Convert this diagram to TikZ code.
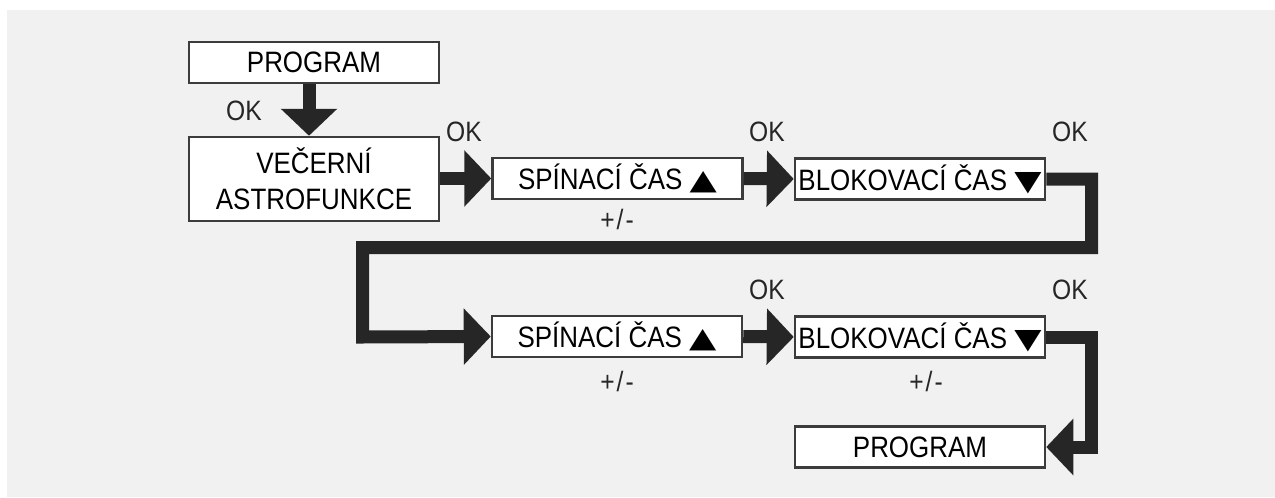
\documentclass[tikz,border=0pt]{standalone}
\usepackage{graphicx}
\usepackage{fontspec}
\setmainfont{Liberation Sans}[FakeStretch=0.88]
\newfontfamily\symfont{DejaVu Sans}
\usetikzlibrary{arrows.meta}
\definecolor{panel}{HTML}{F1F1F1}
\definecolor{ink}{HTML}{262626}
\newcommand{\upmark}{{\symfont\scalebox{1.2}[0.95]{▲}}}
\newcommand{\downmark}{{\symfont\scalebox{1.2}[0.95]{▼}}}
\tikzset{
  box/.style={draw=ink!90,line width=2.5pt,fill=white,minimum width=250pt,
    minimum height=41pt,inner sep=0pt,font=\fontsize{29.5}{36}\selectfont},
  flow/.style={-{Triangle[length=27pt,width=55pt]},line width=13pt,ink},
  okmark/.style={font=\fontsize{28}{30}\selectfont,text=ink}
}

\begin{document}
\begin{tikzpicture}[x=1pt,y=-1pt]
    \useasboundingbox (0,0) rectangle (1275,498);
    \fill[white] (0,0) rectangle (1275,498);
    \fill[panel] (7,10) rectangle (1275,497);

    % first row
    \node[box] (prog1) at (314,62.5) {PROGRAM};
    \node[box,minimum height=84pt,align=center] (astro) at (314,179) {VEČERNÍ\\ASTROFUNKCE};
    \node[box] (spin1) at (617.5,178.5) {SPÍNACÍ ČAS \upmark\hspace{8pt}};
    \node[box] (blok1) at (920,179) {BLOKOVACÍ ČAS \downmark};

    % second row
    \node[box] (spin2) at (617,336.5) {SPÍNACÍ ČAS \upmark\hspace{8pt}};
    \node[box] (blok2) at (920,337) {BLOKOVACÍ ČAS \downmark};
    \node[box] (prog2) at (920,447) {PROGRAM};

    \coordinate (turnA) at (1091.5,247.5);
    \coordinate (turnB) at (362.5,337);
    \coordinate (turnC) at (1091.5,447);

    \draw[flow] ([xshift=-5pt]prog1.south) -- ([xshift=-5pt]astro.north);
    \draw[flow] (astro.east |- spin1.west) -- (spin1.west);
    \draw[flow] (spin1.east) -- (blok1.west);
    \draw[flow] (blok1.east) -| (turnA) -| (turnB) -- (spin2.west);
    \draw[flow] (spin2.east) -- (blok2.west);
    \draw[flow] (blok2.east) -| (turnC) -- (prog2.east);

    \node[okmark] (ok1) at (244,111) {OK};
    \node[okmark] (ok2) at (464,132) {OK};
    \node[okmark] (ok3) at (767,132) {OK};
    \node[okmark] (ok4) at (1070,132) {OK};
    \node[okmark] (ok5) at (767,290) {OK};
    \node[okmark] (ok6) at (1070,290) {OK};

    \node[okmark] (pm1) at (617,219) {+\kern2pt/\kern2pt-};
    \node[okmark] (pm2) at (617,381) {+\kern2pt/\kern2pt-};
    \node[okmark] (pm3) at (926,381) {+\kern2pt/\kern2pt-};
  \end{tikzpicture}
\end{document}
